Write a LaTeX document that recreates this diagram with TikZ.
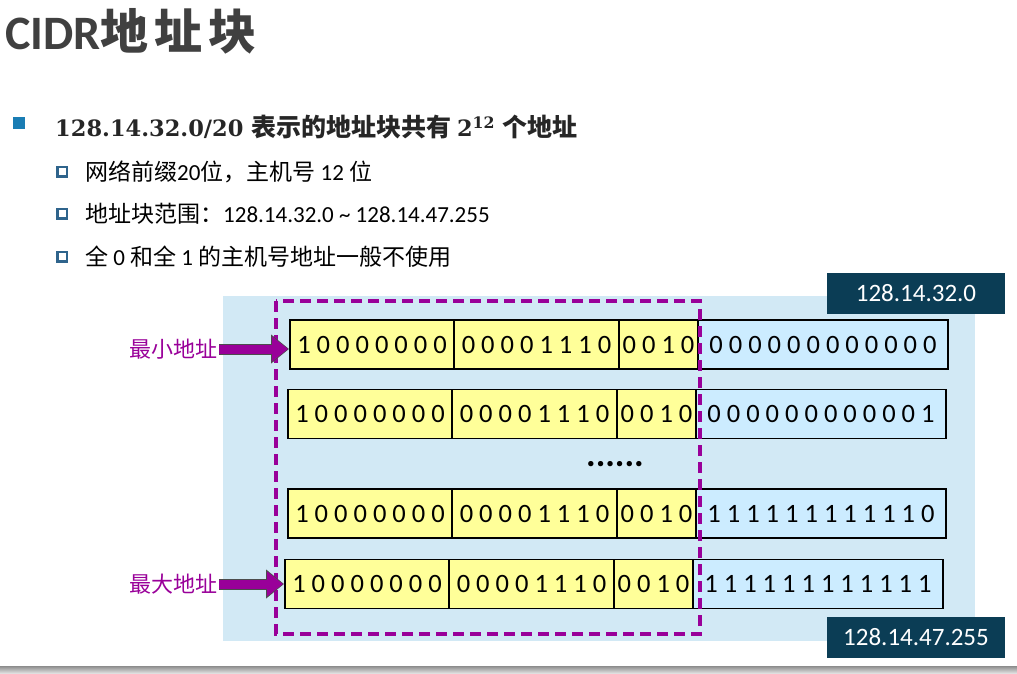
\documentclass[tikz,border=0pt]{standalone}
\usepackage{fontspec}
\setmainfont{Carlito}
\newfontfamily\cjk{Noto Sans CJK SC}
\newfontfamily\numserif{DejaVu Serif}
\usetikzlibrary{positioning,arrows.meta}
\definecolor{bgblue}{RGB}{210,233,245}
\definecolor{bityellow}{RGB}{255,255,153}
\definecolor{bitblue}{RGB}{204,236,255}
\definecolor{purp}{RGB}{153,0,153}
\definecolor{navy}{RGB}{11,61,85}
\definecolor{titlegray}{RGB}{64,64,64}
\definecolor{bulletblue}{RGB}{26,125,180}
\definecolor{subblue}{RGB}{47,100,140}

\begin{document}
\begin{tikzpicture}[x=1pt,y=-1pt,
    seg/.style={draw, line width=1.2, inner sep=0, outer sep=0, minimum height=49,
      font=\fontsize{26.5}{30}\selectfont},
    ybit/.style={seg, fill=bityellow},
    hbit/.style={seg, fill=bitblue},
    tag/.style={fill=navy, text=white, inner sep=0, minimum width=178, minimum height=41,
      font=\fontsize{25}{28}\selectfont},
    lbl/.style={text=purp, inner sep=1, font=\cjk\fontsize{22}{26}\selectfont},
    line/.style={anchor=base west, inner sep=0, font=\fontsize{23}{27}\selectfont},
    hsq/.style={draw=subblue, fill=white, line width=2.5, inner sep=0, minimum size=9.5},
    fat/.style={draw=purp, line width=9, -{Triangle[length=16pt,width=24pt]}, shorten >=2pt,
      preaction={draw=black!70, line width=11, -{Triangle[length=18pt,width=28pt]}, shorten >=1pt}}]
  \useasboundingbox (0,0) rectangle (1017,674);
  \node[anchor=base west, inner sep=0, text=titlegray, font=\fontsize{48}{56}\selectfont\bfseries]
    (title) at (5,50) {CIDR{\cjk 地\hspace{6pt}址\hspace{6pt}块}};
  \node[fill=bulletblue, inner sep=0, minimum size=12] (sq) at (19,123) {};
  \node[line, font=\bfseries, text=black!85] (main) at (55,136)
    {{\numserif\fontsize{22.5}{26}\selectfont 128.14.32.0/20 }{\cjk\fontsize{25}{28}\selectfont 表示的地址块共有 }{\numserif\fontsize{22.5}{26}\selectfont 2\textsuperscript{12} }{\cjk\fontsize{25}{28}\selectfont 个地址}};
  \node[hsq] (s1) at (62,171.5) {};
  \node[hsq] (s2) at (62,213.5) {};
  \node[hsq] (s3) at (62,256.5) {};
  \node[line] (t1) at (85,180) {{\cjk 网络前缀}20{\cjk 位，主机号} 12 {\cjk 位}};
  \node[line] (t2) at (85,222) {{\cjk 地址块范围：}128.14.32.0 \textasciitilde{} 128.14.47.255};
  \node[line] (t3) at (85,265) {{\cjk 全} 0 {\cjk 和全} 1 {\cjk 的主机号地址一般不使用}};
  \fill[bgblue] (223,296) rectangle (975,641);
  \node[tag] (lo) at (916,293.5) {128.14.32.0};
  \node[tag] (hi) at (916,637.5) {128.14.47.255};
  \foreach \i/\x/\y/\h in {1/290/344.5/0 0 0 0 0 0 0 0 0 0 0 0, 2/288/414/0 0 0 0 0 0 0 0 0 0 0 1,
      3/288/513.5/1 1 1 1 1 1 1 1 1 1 1 0, 4/285/584/1 1 1 1 1 1 1 1 1 1 1 1}{
    \node[ybit, minimum width=164, anchor=west] (a\i) at (\x,\y) {1 0 0 0 0 0 0 0};
    \node[ybit, minimum width=165, right=0pt of a\i] (b\i) {0 0 0 0 1 1 1 0};
    \node[ybit, minimum width=79, right=0pt of b\i] (c\i) {0 0 1 0};
    \node[hbit, minimum width=250, right=0pt of c\i] (d\i) {\h};
  }
  \node[font=\fontsize{36}{40}\selectfont\bfseries] (dots) at (615,464) {......};
  \draw[purp, line width=4, dash pattern=on 11pt off 6pt] (276,301) rectangle (700,634);
  \node[lbl, anchor=east] (minl) at (219,349) {最小地址};
  \node[lbl, anchor=east] (maxl) at (219,584) {最大地址};
  \draw[fat] (minl.east) -- (minl.east -| a1.west);
  \draw[fat] (maxl.east) -- (maxl.east -| a4.west);
  \shade[top color=black!45, bottom color=black!8] (0,666) rectangle (1017,674);
\end{tikzpicture}
\end{document}
